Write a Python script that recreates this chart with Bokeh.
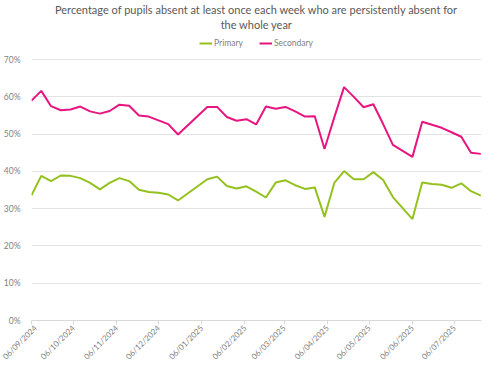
from datetime import datetime, timedelta
from math import pi
from bokeh.plotting import figure
from bokeh.models import (ColumnDataSource, FixedTicker, PrintfTickFormatter, DatetimeTickFormatter,
                          Range1d, Title, Legend, LegendItem)
from bokeh.embed import file_html
from bokeh.resources import INLINE

# ---- data ----
dates = ["06/09/2024", "13/09/2024", "20/09/2024", "27/09/2024", "04/10/2024", "11/10/2024",
         "18/10/2024", "25/10/2024", "01/11/2024", "08/11/2024", "15/11/2024", "22/11/2024",
         "29/11/2024", "06/12/2024", "13/12/2024", "20/12/2024",
         "10/01/2025", "17/01/2025", "24/01/2025", "31/01/2025", "07/02/2025", "14/02/2025",
         "21/02/2025", "28/02/2025", "07/03/2025", "14/03/2025", "21/03/2025", "28/03/2025",
         "04/04/2025", "11/04/2025", "18/04/2025", "25/04/2025", "02/05/2025", "09/05/2025",
         "16/05/2025", "23/05/2025",
         "06/06/2025", "13/06/2025", "20/06/2025", "27/06/2025", "04/07/2025", "11/07/2025",
         "18/07/2025", "25/07/2025"]
primary = [33.6, 38.8, 37.4, 38.9, 38.8, 38.2, 36.9, 35.2, 36.9, 38.2, 37.4, 35.1, 34.5, 34.3,
           33.8, 32.2,
           37.9, 38.6, 36.1, 35.4, 36.0, 34.6, 33.0, 37.0, 37.6, 36.3, 35.3, 35.7, 27.8, 36.9,
           40.1, 37.9, 37.9, 39.8, 37.7, 33.1,
           27.2, 37.0, 36.6, 36.4, 35.6, 36.8, 34.7, 33.5]
secondary = [59.0, 61.6, 57.5, 56.4, 56.6, 57.4, 56.1, 55.5, 56.2, 57.9, 57.6, 55.0, 54.7, 53.7,
             52.7, 49.9,
             57.3, 57.3, 54.6, 53.6, 54.0, 52.6, 57.4, 56.8, 57.3, 56.1, 54.7, 54.8, 46.0, 54.5,
             62.6, 60.0, 57.2, 58.0, 52.7, 47.1,
             43.9, 53.3, 52.5, 51.7, 50.5, 49.3, 45.0, 44.7]
tick_dates = ["06/09/2024", "06/10/2024", "06/11/2024", "06/12/2024", "06/01/2025", "06/02/2025",
              "06/03/2025", "06/04/2025", "06/05/2025", "06/06/2025", "06/07/2025"]
y_ticks = [0, 10, 20, 30, 40, 50, 60, 70]

title_lines = ["Percentage of pupils absent at least once each week who are persistently absent for",
               "the whole year"]

GREEN = "#95C11F"
PINK = "#E6157F"
GREY_TXT = "#7F7F7F"
TITLE_TXT = "#595959"
GRID = "#E3E3E3"
FONT = "Lato"


def d(s):
    return datetime.strptime(s, "%d/%m/%Y")


def ms(dt):
    return (dt - datetime(1970, 1, 1)).total_seconds() * 1000.0


src = ColumnDataSource(dict(x=[d(s) for s in dates], p=primary, s=secondary))

p = figure(width=484, height=367, x_axis_type="datetime", output_backend="svg",
           toolbar_location=None, title=None,
           x_range=Range1d(d(tick_dates[0]), d(dates[-1]) + timedelta(hours=12)),
           y_range=Range1d(0, 77.8), min_border_left=0, min_border_right=3,
           min_border_top=3, min_border_bottom=0)
p.outline_line_color = None
p.background_fill_color = "white"

r1 = p.line("x", "p", source=src, line_color=GREEN, line_width=2)
r2 = p.line("x", "s", source=src, line_color=PINK, line_width=2)

legend = Legend(items=[LegendItem(label="Primary", renderers=[r1]),
                       LegendItem(label="Secondary", renderers=[r2])],
                orientation="horizontal", location="top_center",
                label_text_font=FONT, label_text_font_size="8.5px", label_text_color=GREY_TXT,
                glyph_width=13, glyph_height=8, label_standoff=2, spacing=16,
                border_line_color=None, background_fill_alpha=0,
                padding=0, margin=8, label_height=10)
p.add_layout(legend)

for line in reversed(title_lines):
    p.add_layout(Title(text=line, align="center", text_font=FONT, text_font_size="11px",
                       text_font_style="normal", text_color=TITLE_TXT, standoff=0,
                       offset=0), "above")

# axes
p.yaxis.ticker = FixedTicker(ticks=y_ticks)
p.yaxis.formatter = PrintfTickFormatter(format="%d%%")
p.yaxis.axis_line_color = None
p.yaxis.major_tick_line_color = None
p.yaxis.minor_tick_line_color = None
p.yaxis.major_label_text_font = FONT
p.yaxis.major_label_text_font_size = "8.5px"
p.yaxis.major_label_text_color = GREY_TXT
p.yaxis.major_label_standoff = 5

p.xaxis.ticker = FixedTicker(ticks=[ms(d(s)) for s in tick_dates])
fmt = "%d/%m/%Y"
p.xaxis.formatter = DatetimeTickFormatter(milliseconds=fmt, seconds=fmt, minsec=fmt, minutes=fmt,
                                          hourmin=fmt, hours=fmt, days=fmt, months=fmt, years=fmt)
p.xaxis.major_label_orientation = pi / 4
p.xaxis.axis_line_color = "#D9D9D9"
p.xaxis.major_tick_line_color = "#D9D9D9"
p.xaxis.major_tick_in = 0
p.xaxis.major_tick_out = 4
p.xaxis.minor_tick_line_color = None
p.xaxis.major_label_text_font = FONT
p.xaxis.major_label_text_font_size = "8px"
p.xaxis.major_label_text_color = GREY_TXT
p.xaxis.major_label_standoff = 2

p.xgrid.grid_line_color = None
p.ygrid.grid_line_color = GRID
p.ygrid.grid_line_width = 1

open("out.html", "w").write(file_html(p, INLINE))
